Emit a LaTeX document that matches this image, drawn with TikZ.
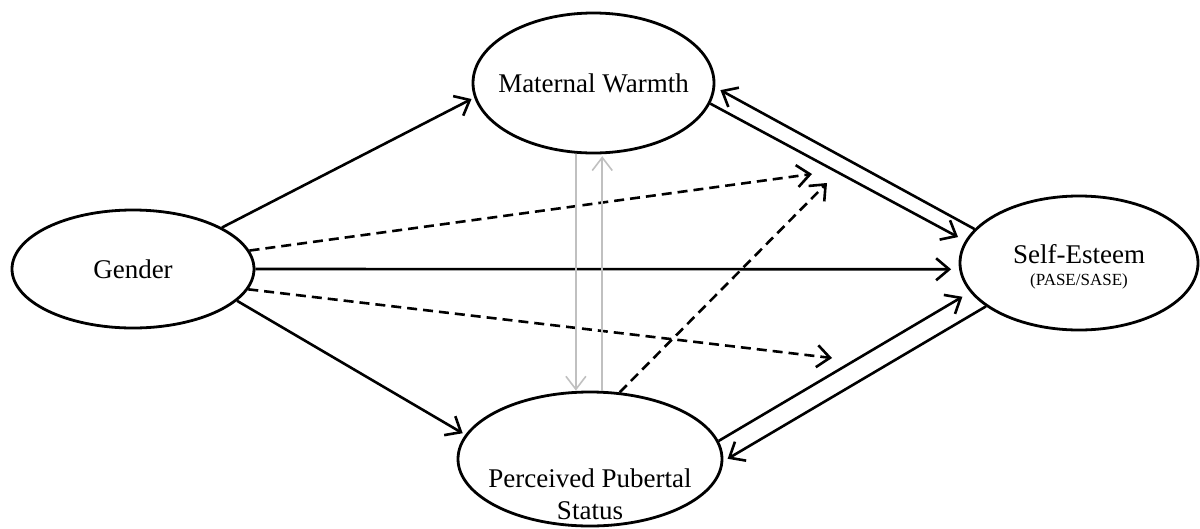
\documentclass[tikz,border=0pt]{standalone}
\usepackage{fontspec}
\setmainfont{Liberation Serif}
\usetikzlibrary{shapes.geometric,arrows.meta,calc}
\definecolor{greyline}{RGB}{192,192,192}
\begin{document}
\begin{tikzpicture}[x=1pt,y=-1pt,
  every node/.style={font=\fontsize{27}{32}\selectfont},
  oval/.style={ellipse, draw, line width=2.8pt, inner sep=0pt},
  arr/.style={line width=2.6pt, -{Straight Barb[length=13pt,width=22pt]}},
  darr/.style={arr, dash pattern=on 10pt off 6pt},
  garr/.style={line width=1.6pt, draw=greyline, -{Straight Barb[length=13pt,width=20pt]}}
]
\useasboundingbox (0,0) rectangle (1200,528);

% ellipses
\node[oval, minimum width=242pt, minimum height=118pt] (g) at (133,269) {Gender};
\node[oval, minimum width=241pt, minimum height=140pt] (mw) at (593.5,83) {};
\node (mwt) at (593.5,83) {Maternal Warmth};
\node[oval, minimum width=264pt, minimum height=134pt] (pps) at (590,459) {};
\node[align=center] (ppst) at (590,494) {Perceived Pubertal\\Status};
\node[oval, minimum width=238pt, minimum height=134pt] (se) at (1079,263) {};
\node[anchor=base] (set) at (1079,263) {Self-Esteem};
\node[anchor=base, font=\fontsize{17}{20}\selectfont] (sesub) at (1079,285) {(PASE/SASE)};

% free ends of dashed arrows
\coordinate (d1) at (812,174);
\coordinate (d2) at (832,358);
\coordinate (d3) at (827,183);

% from Gender
\draw[arr, shorten >=3pt] (g.25) -- (mw.187.5);
\draw[darr] (g.9) -- (d1);
\draw[arr, shorten >=8pt] (g.0) -- (se.183.4);
\draw[darr] (g.-10) -- (d2);
\draw[arr, shorten >=3pt] (g.-17) -- (pps.169.8);

% Maternal Warmth <-> Self-Esteem
\draw[arr, shorten >=8pt] (mw.-10.5) -- (se.169.3);
\draw[arr, shorten >=6pt] (se.162.4) -- (mw.-2.2);

% Pubertal Status <-> Self-Esteem
\draw[arr, shorten >=9pt] (pps.8.2) -- (se.195.4);
\draw[arr, shorten >=5pt] (se.205.6) -- (pps.-1);

% dashed from Pubertal Status
\draw[darr] (pps.66.2) -- (d3);

% grey arrows between Maternal Warmth and Pubertal Status
\draw[garr] (mw.256.7) -- (mw.256.7 |- pps.north);
\draw[garr, shorten >=2pt] (mw.-83 |- pps.north) -- (mw.-83);
\end{tikzpicture}
\end{document}
